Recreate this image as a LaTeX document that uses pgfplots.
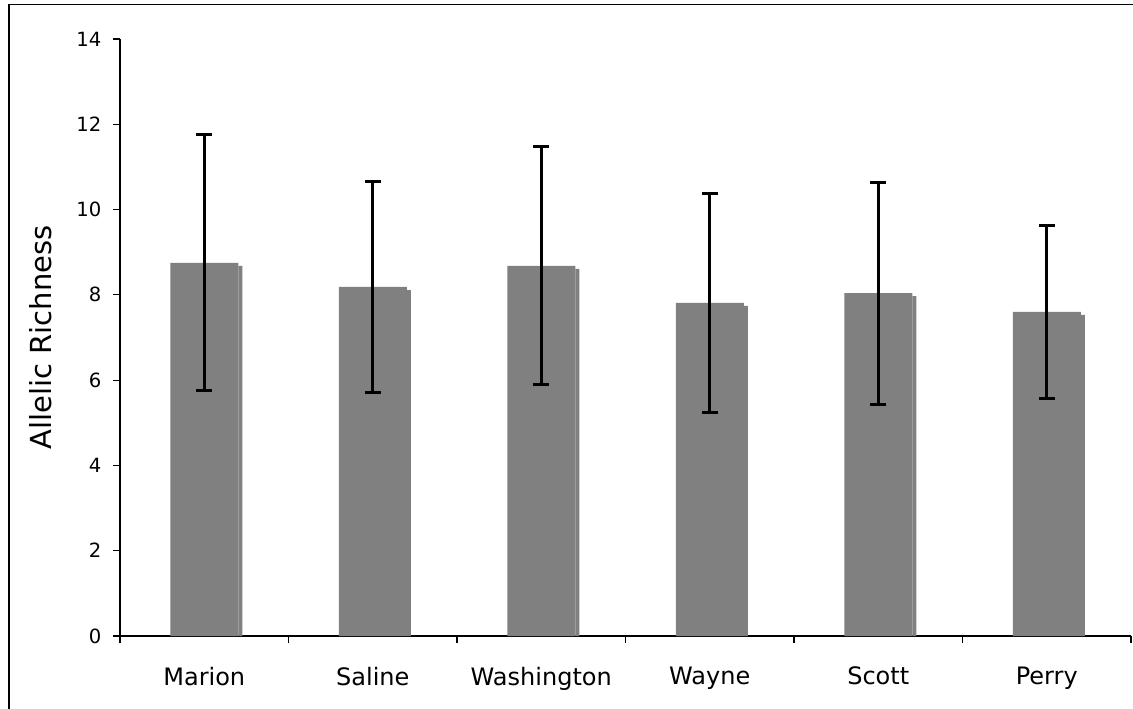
\documentclass[border=0pt]{standalone}
\usepackage{fontspec}
\setmainfont{DejaVu Sans}
\usepackage{pgfplots}
\pgfplotsset{compat=1.18}
\definecolor{bargray}{HTML}{808080}
\begin{document}
\begin{tikzpicture}
\useasboundingbox (0,0) rectangle (566.5pt,354pt);
\draw[line width=0.6pt] (4.5pt,-20pt) rectangle (600pt,351.9pt);
\begin{axis}[
  at={(60pt,36pt)}, anchor=south west,
  scale only axis, width=505.5pt, height=298.5pt,
  axis lines*=left,
  axis line style={line width=0.6pt},
  xmin=-0.5, xmax=5.5, ymin=0, ymax=14,
  xtick={-0.5,0.5,...,5.5},
  x tick label as interval=true,
  xticklabels={Marion,Saline,Washington,Wayne,Scott,Perry},
  ytick={0,2,...,14},
  tick align=outside,
  major tick length=3.5pt,
  tick style={line width=0.6pt, black},
  /pgf/number format/assume math mode=true,
  yticklabel style={font=\fontsize{9.8}{12}\selectfont, xshift=-2.25pt},
  xticklabel style={font=\fontsize{12}{14}\selectfont, yshift=-8.5pt},
  every axis y label/.style={at={(axis description cs:0,0.5)}, xshift=-39.5pt, rotate=90, anchor=center, font=\fontsize{14.5}{16}\selectfont},
  ylabel={Allelic Richness},
  ybar, bar width=34pt,
  clip=false,
]
\addplot[draw=none, fill=bargray, bar shift=18pt, bar width=2pt, forget plot] coordinates {
(0,8.68) (1,8.11) (2,8.61) (3,7.74) (4,7.97) (5,7.53)};
\addplot[draw=none, fill=bargray, bar shift=0pt,
  error bars/.cd, y dir=both, y explicit,
  error bar style={line width=1.5pt, black},
  error mark options={rotate=90, mark size=4pt, line width=1.5pt, black}]
coordinates {
(0,8.75) +- (0,3.00)
(1,8.19) +- (0,2.47)
(2,8.68) +- (0,2.79)
(3,7.81) +- (0,2.56)
(4,8.04) +- (0,2.60)
(5,7.60) +- (0,2.02)
};
\end{axis}
\end{tikzpicture}
\end{document}
